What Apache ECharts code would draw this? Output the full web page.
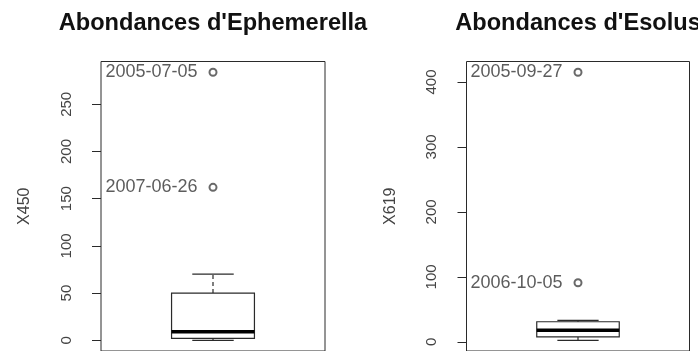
<!DOCTYPE html>
<html>
<head>
<meta charset="utf-8">
<script src="https://cdn.jsdelivr.net/npm/echarts@6/dist/echarts.min.js"></script>
<style>html,body{margin:0;padding:0;background:#fff}#c{width:698px;height:351px}</style>
</head>
<body>
<div id="c"></div>
<script>
// ---- data ----
var titles = ["Abondances d'Ephemerella", "Abondances d'Esolus"];
var axisNames = ["X450", "X619"];
// [lower whisker, Q1, median, Q3, upper whisker]
var boxEphemerella = [0, 2, 9, 50, 70];
var boxEsolus = [2.5, 7.7, 18, 31, 33];
var outlierDatesEphemerella = ["2005-07-05", "2007-06-26"];
var outlierValuesEphemerella = [284, 162];
var outlierDatesEsolus = ["2005-09-27", "2006-10-05"];
var outlierValuesEsolus = [415, 91];
var ticksEphemerella = [0, 50, 100, 150, 200, 250];
var ticksEsolus = [0, 100, 200, 300, 400];

var boxes = [boxEphemerella, boxEsolus];
var outDates = [outlierDatesEphemerella, outlierDatesEsolus];
var outVals = [outlierValuesEphemerella, outlierValuesEsolus];
var ticks = [ticksEphemerella, ticksEsolus];

var INK = '#2a2a2a';
var FONT = 'Liberation Sans, Arial, sans-serif';
var gridsPos = [{left: 101, width: 224}, {left: 466.5, width: 223}];

function rng(i) {
  var all = boxes[i].concat(outVals[i]);
  var lo = Math.min.apply(null, all), hi = Math.max.apply(null, all);
  var pad = (hi - lo) * 0.04;
  return [lo - pad, hi + pad];
}

var option = {
  animation: false,
  backgroundColor: '#fff',
  title: [], grid: [], xAxis: [], yAxis: [], series: []
};

for (var i = 0; i < 2; i++) {
  var r = rng(i);
  var g = gridsPos[i];
  option.title.push({
    text: titles[i], left: g.left + g.width / 2 - 5, textAlign: 'center', top: 6,
    textStyle: {fontFamily: FONT, fontSize: 23.6, fontWeight: 'bold', color: '#111'}
  });
  option.grid.push({
    left: g.left, width: g.width, top: 61.5, height: 291,
    show: true, borderColor: INK, borderWidth: 1, backgroundColor: 'transparent'
  });
  option.xAxis.push({
    gridIndex: i, type: 'category', data: [''], show: false
  });
  option.yAxis.push({
    gridIndex: i, type: 'value', min: r[0], max: r[1],
    name: axisNames[i], nameLocation: 'middle', nameGap: 68,
    nameTextStyle: {fontFamily: FONT, fontSize: 16, color: '#444'},
    axisLine: {show: false},
    splitLine: {show: false},
    axisTick: {show: true, length: 9, customValues: ticks[i], lineStyle: {color: INK}},
    axisLabel: {show: true, rotate: 90, margin: 27, customValues: ticks[i],
      fontFamily: FONT, fontSize: 15, color: '#444'}
  });
  option.series.push({
    type: 'custom', xAxisIndex: i, yAxisIndex: i,
    data: [[0].concat(boxes[i])],
    renderItem: function (params, api) {
      var x = api.value(0);
      var band = api.size([1, 0])[0];
      var bw = band * 0.37, cw = bw * 0.5;
      var c = api.coord([x, api.value(3)]);
      var cx = c[0];
      var yLo = api.coord([x, api.value(1)])[1];
      var yQ1 = api.coord([x, api.value(2)])[1];
      var yMed = c[1];
      var yQ3 = api.coord([x, api.value(4)])[1];
      var yHi = api.coord([x, api.value(5)])[1];
      var s = {stroke: INK, lineWidth: 1.2, fill: null};
      var dash = {stroke: INK, lineWidth: 1.2, lineDash: [4, 3]};
      return {type: 'group', children: [
        {type: 'rect', shape: {x: cx - bw / 2, y: yQ3, width: bw, height: yQ1 - yQ3}, style: {stroke: INK, lineWidth: 1.2, fill: '#fff'}},
        {type: 'line', shape: {x1: cx, y1: yQ3, x2: cx, y2: yHi}, style: dash},
        {type: 'line', shape: {x1: cx, y1: yQ1, x2: cx, y2: yLo}, style: dash},
        {type: 'line', shape: {x1: cx - cw / 2, y1: yHi, x2: cx + cw / 2, y2: yHi}, style: s},
        {type: 'line', shape: {x1: cx - cw / 2, y1: yLo, x2: cx + cw / 2, y2: yLo}, style: s},
        {type: 'line', shape: {x1: cx - bw / 2, y1: yMed, x2: cx + bw / 2, y2: yMed}, style: {stroke: '#000', lineWidth: 3.5}}
      ]};
    }
  });
  var pts = [];
  for (var k = 0; k < outVals[i].length; k++) {
    pts.push({name: outDates[i][k], value: [0, outVals[i][k]]});
  }
  option.series.push({
    type: 'scatter', xAxisIndex: i, yAxisIndex: i,
    symbol: 'emptyCircle', symbolSize: 7,
    itemStyle: {color: '#444', borderColor: '#444', borderWidth: 1},
    label: {show: true, position: 'left', distance: 11, formatter: '{b}',
      fontFamily: FONT, fontSize: 18, color: '#333'},
    data: pts
  });
}

var chart = echarts.init(document.getElementById('c'), null, {renderer: 'canvas'});
chart.setOption(option);
</script>
</body>
</html>
